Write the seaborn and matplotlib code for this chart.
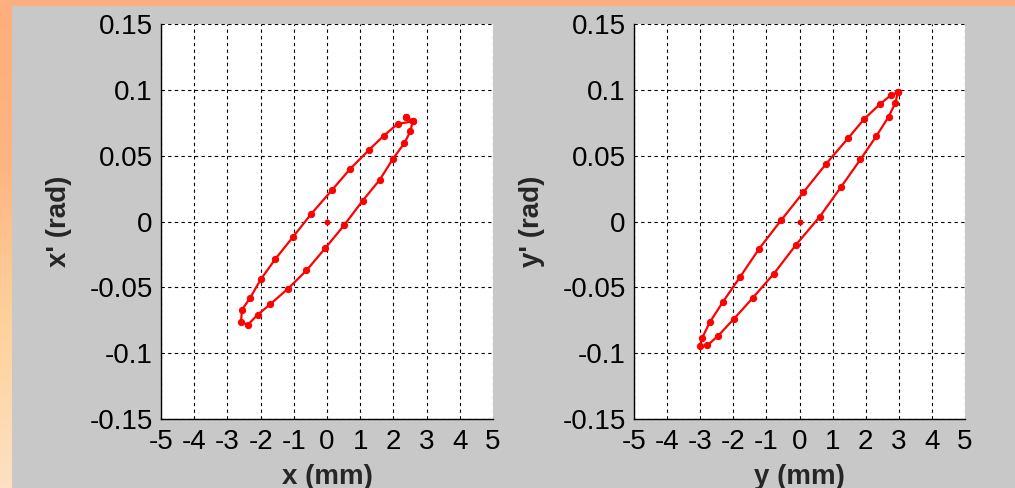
import numpy as np
import pandas as pd
import matplotlib
matplotlib.use("Agg")
import matplotlib.pyplot as plt
import seaborn as sns
from matplotlib.colors import LinearSegmentedColormap

# ---- data ----
x_mm = [2.38, 2.58, 2.13, 1.71, 1.27, 0.70, 0.14, -0.48, -1.03, -1.56, -1.99, -2.32, -2.56, -2.59,
        -2.39, -2.09, -1.71, -1.17, -0.62, -0.06, 0.52, 1.07, 1.59, 1.98, 2.33, 2.51, 2.58, 2.38]
xp_rad = [0.0793, 0.0760, 0.0742, 0.0651, 0.0545, 0.0400, 0.0236, 0.0056, -0.0119, -0.0286, -0.0438, -0.0582, -0.0670, -0.0760,
          -0.0785, -0.0709, -0.0628, -0.0509, -0.0372, -0.0205, -0.0027, 0.0157, 0.0317, 0.0474, 0.0595, 0.0684, 0.0760, 0.0793]

y_mm = [2.97, 2.75, 2.42, 1.96, 1.48, 0.81, 0.12, -0.56, -1.22, -1.80, -2.32, -2.71, -2.94, -3.01,
        -2.78, -2.45, -1.98, -1.41, -0.77, -0.10, 0.61, 1.26, 1.84, 2.32, 2.69, 2.90, 2.97]
yp_rad = [0.0983, 0.0957, 0.0889, 0.0780, 0.0636, 0.0440, 0.0223, 0.0008, -0.0207, -0.0423, -0.0613, -0.0765, -0.0884, -0.0947,
          -0.0940, -0.0866, -0.0739, -0.0580, -0.0395, -0.0175, 0.0036, 0.0264, 0.0471, 0.0648, 0.0795, 0.0902, 0.0983]

center_pos = [0.0]
center_ang = [0.0]

x_ticks = [-5, -4, -3, -2, -1, 0, 1, 2, 3, 4, 5]
y_ticks = [-0.15, -0.1, -0.05, 0, 0.05, 0.1, 0.15]
y_tick_labels = ["-0.15", "-0.1", "-0.05", "0", "0.05", "0.1", "0.15"]
x_labels = ["x (mm)", "y (mm)"]
y_labels = ["x' (rad)", "y' (rad)"]

# ---- style ----
sns.set_style("white")
plt.rcParams['font.family'] = ['Liberation Sans', 'DejaVu Sans']

W, H = 1015, 488
fig = plt.figure(figsize=(W / 100, H / 100), dpi=100)
fig.patch.set_facecolor("#fdb07f")

# gray panel background
bg = fig.add_axes([12 / W, 0, 1 - 12 / W, 1 - 6 / H], zorder=-10)
bg.set_facecolor("#c8c8c8")
bg.set_xticks([]); bg.set_yticks([])
for s in bg.spines.values():
    s.set_visible(False)

# left gradient strip
gax = fig.add_axes([0, 0, 12 / W, 1 - 6 / H], zorder=-10)
grad = np.linspace(0, 1, 256).reshape(-1, 1)
cmap = LinearSegmentedColormap.from_list("edge", ["#fde0c2", "#fdd29c", "#fdb583", "#fdae7c"])
gax.imshow(grad, aspect="auto", cmap=cmap, origin="lower", extent=[0, 1, 0, 1])
gax.axis("off")

axes_px = [(161, 493), (634, 965)]
top_px, bot_px = 24, 419
FS = 20

datasets = [(x_mm, xp_rad), (y_mm, yp_rad)]
for i, ((l, r), (xs, ys)) in enumerate(zip(axes_px, datasets)):
    ax = fig.add_axes([l / W, 1 - bot_px / H, (r - l) / W, (bot_px - top_px) / H])
    ax.set_facecolor("white")
    df = pd.DataFrame({"pos": xs, "ang": ys})
    sns.lineplot(data=df, x="pos", y="ang", sort=False, ax=ax, color="red", lw=1.6,
                 marker="o", markersize=4.5, markeredgecolor="red", markerfacecolor="red",
                 estimator=None)
    cdf = pd.DataFrame({"pos": center_pos, "ang": center_ang})
    sns.scatterplot(data=cdf, x="pos", y="ang", ax=ax, color="red", s=18, marker="o",
                    edgecolor="red", linewidth=0)
    ax.set_xlim(-5, 5)
    ax.set_ylim(-0.15, 0.15)
    ax.set_xticks(x_ticks)
    ax.set_xticklabels([str(t) for t in x_ticks], fontsize=FS)
    ax.set_yticks(y_ticks)
    ax.set_yticklabels(y_tick_labels, fontsize=FS)
    ax.tick_params(direction="in", length=3, width=0.8, color="black")
    ax.tick_params(axis="x", pad=7)
    ax.tick_params(axis="y", pad=6)
    ax.grid(True, color="black", linestyle=(0, (3, 3)), linewidth=0.8)
    ax.set_axisbelow(True)
    for s in ["top", "right"]:
        ax.spines[s].set_visible(False)
    for s in ["left", "bottom"]:
        ax.spines[s].set_color("black")
        ax.spines[s].set_linewidth(1.0)
    ax.set_xlabel(x_labels[i], fontsize=FS, fontweight="bold")
    ax.set_ylabel(y_labels[i], fontsize=FS, fontweight="bold")
    ax.xaxis.set_label_coords(0.5, -0.113)
    ax.yaxis.set_label_coords(-0.268, 0.5)
    for t in ax.get_xticklabels() + ax.get_yticklabels():
        t.set_color("black")

fig.savefig("out.png", dpi=100, facecolor=fig.get_facecolor())
